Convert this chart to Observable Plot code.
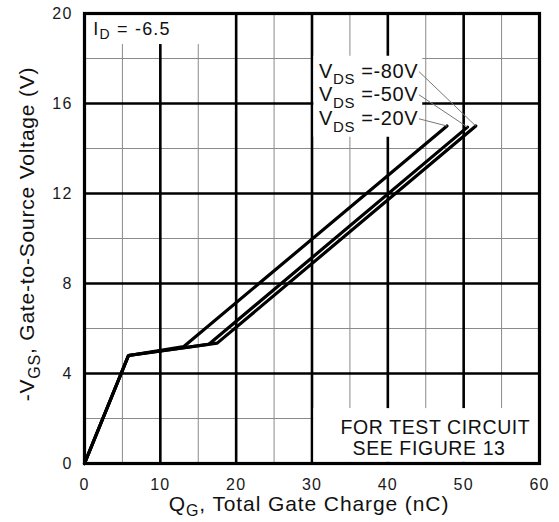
<!DOCTYPE html>
<html><head><meta charset="utf-8">
<script src="https://cdn.jsdelivr.net/npm/d3@7"></script>
<script src="https://cdn.jsdelivr.net/npm/@observablehq/plot@0.6"></script>
<style>
body{margin:0;background:#fff;}
#chart svg{display:block;}
</style></head><body><div id="chart"></div>
<script>
// ---- data ----
const xTicks = [0, 10, 20, 30, 40, 50, 60];
const yTicks = [0, 4, 8, 12, 16, 20];
const xMajor = [10, 20, 30, 40, 50];
const xMinor = [5, 15, 25, 35, 45, 55];
const yMajor = [4, 8, 12, 16];
const yMinor = [2, 6, 10, 14, 18];

const seriesNames = ["-80V", "-50V", "-20V"];
const qg80 = [0, 5.8, 17.5, 51.6];
const vgs80 = [0, 4.8, 5.35, 15.0];
const qg50 = [0, 5.8, 16.4, 50.5];
const vgs50 = [0, 4.8, 5.3, 14.95];
const qg20 = [0, 5.8, 13.1, 47.8];
const vgs20 = [0, 4.8, 5.2, 15.0];

const idLabel = "-6.5";
const noteLines = ["FOR TEST CIRCUIT", "SEE FIGURE 13"];

// ---- build tables ----
const seriesQ = [qg80, qg50, qg20];
const seriesV = [vgs80, vgs50, vgs20];
const rows = [];
seriesNames.forEach((n, i) => seriesQ[i].forEach((q, j) => rows.push({series: n, q, v: seriesV[i][j]})));

// annotation placement
const legendY = [17.12, 16.09, 15.02];
const legendX = 31.0;
const leaderX = 44.1;
const leaders = seriesNames.map((n, i) => ({
  x1: leaderX, y1: legendY[i] + 0.3,
  x2: seriesQ[i][seriesQ[i].length - 1], y2: seriesV[i][seriesV[i].length - 1]
}));
const masks = [
  {x1: 0.2, x2: 19, y1: 18.62, y2: 19.95},
  {x1: 30.25, x2: 44.6, y1: 14.5, y2: 18.1},
  {x1: 30.25, x2: 59.9, y1: 0.05, y2: 2.44}
];

const FONT = "'Liberation Sans', Arial, Helvetica, sans-serif";

const plot = Plot.plot({
  width: 559,
  height: 522,
  marginLeft: 84,
  marginRight: 20,
  marginTop: 13,
  marginBottom: 59,
  style: {fontFamily: FONT, fontSize: "16px", color: "#1a1a1a", background: "white", letterSpacing: "1.2px"},
  x: {domain: [0, 60]},
  y: {domain: [0, 20]},
  marks: [
    Plot.ruleX(xMinor, {stroke: "#8a8a8a", strokeWidth: 1}),
    Plot.ruleY(yMinor, {stroke: "#8a8a8a", strokeWidth: 1}),
    Plot.ruleX(xMajor, {stroke: "black", strokeWidth: 2.6}),
    Plot.ruleY(yMajor, {stroke: "black", strokeWidth: 2.6}),
    Plot.rect(masks, {x1: "x1", x2: "x2", y1: "y1", y2: "y2", fill: "white"}),
    Plot.line(rows, {x: "q", y: "v", z: "series", stroke: "black", strokeWidth: 3.2, strokeLinejoin: "miter"}),
    Plot.link(leaders, {x1: "x1", y1: "y1", x2: "x2", y2: "y2", stroke: "#777", strokeWidth: 1}),
    Plot.frame({stroke: "black", strokeWidth: 3.2}),
    Plot.axisX({ticks: xTicks, tickSize: 0, tickPadding: 15, fontSize: 16, label: null, tickFormat: d3.format("d")}),
    Plot.axisY({ticks: yTicks, tickSize: 0, tickPadding: 12, fontSize: 16, label: null, tickFormat: d3.format("d")})
  ]
});

document.getElementById("chart").appendChild(plot);

const sx = plot.scale("x"), sy = plot.scale("y");
const svg = d3.select(plot);
const g = svg.append("g").attr("font-family", FONT).attr("fill", "#111");

function subText(x, y, parts, size, subSize, opts = {}) {
  const t = g.append("text").attr("x", x).attr("y", y)
    .attr("font-size", size).attr("text-anchor", opts.anchor || "start")
    .style("letter-spacing", (opts.ls ?? 0.8) + "px");
  if (opts.transform) t.attr("transform", opts.transform).attr("x", 0).attr("y", 0);
  let shifted = 0;
  parts.forEach(p => {
    const ts = t.append("tspan").text(p.t);
    if (p.sub) { ts.attr("font-size", subSize).attr("dy", opts.subDy); shifted = opts.subDy; }
    else if (shifted) { ts.attr("dy", -shifted); shifted = 0; }
  });
  return t;
}

// I_D label
subText(sx.apply(1.23), sy.apply(19.02), [{t: "I"}, {t: "D", sub: true}, {t: " = " + idLabel}], 18, 14, {subDy: 4, ls: 1.2});

// legend
seriesNames.forEach((n, i) => {
  subText(sx.apply(legendX), sy.apply(legendY[i]), [{t: "V"}, {t: "DS", sub: true}, {t: " =" + n}], 20, 15, {subDy: 6.6, ls: 0.6});
});

// note
noteLines.forEach((line, i) => {
  g.append("text").attr("x", sx.apply(i === 0 ? 46.35 : 45.5)).attr("y", sy.apply(i === 0 ? 1.29 : 0.356))
    .attr("font-size", 19.5).attr("text-anchor", "middle").style("letter-spacing", "0.6px").text(line);
});

// axis titles
subText(309, 511, [{t: "Q"}, {t: "G", sub: true}, {t: ", Total Gate Charge (nC)"}], 21, 16, {anchor: "middle", subDy: 5, ls: 0.9});
subText(0, 0, [{t: "-V"}, {t: "GS", sub: true}, {t: ", Gate-to-Source Voltage (V)"}], 21, 16,
  {anchor: "middle", subDy: 6, ls: 0.8, transform: "translate(33.5,234) rotate(-90)"});
</script></body></html>
